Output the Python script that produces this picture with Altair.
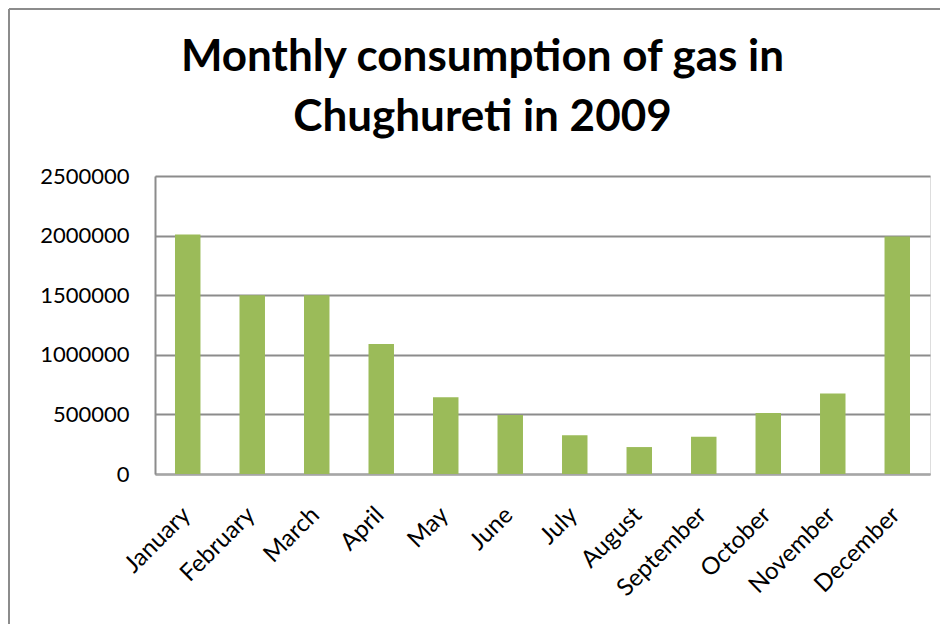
import altair as alt
import pandas as pd

months = ["January", "February", "March", "April", "May", "June", "July",
          "August", "September", "October", "November", "December"]
consumption = [2010000, 1500000, 1500000, 1090000, 644000, 496000, 326000,
               226000, 312000, 512000, 675000, 1992000]
y_ticks = [0, 500000, 1000000, 1500000, 2000000, 2500000]
title_lines = ["Monthly consumption of gas in", "Chughureti in 2009"]

df = pd.DataFrame({"month": months, "value": consumption})

FONT = "Lato"

bars = alt.Chart(df).mark_bar(color="#9BBB59").encode(
    x=alt.X("month:N", sort=months,
            scale=alt.Scale(paddingInner=0.605, paddingOuter=0.31),
            axis=alt.Axis(title=None, labelAngle=-45, labelAlign="right",
                          labelBaseline="middle", labelPadding=37, labelOffset=-1,
                          labelFont=FONT, labelFontSize=24, labelColor="#000000",
                          ticks=False, domainColor="#a6a6a6", domainWidth=2,
                          grid=False)),
    y=alt.Y("value:Q",
            scale=alt.Scale(domain=[0, 2500000], nice=False),
            axis=alt.Axis(title=None, values=y_ticks, format="d",
                          labelFont=FONT, labelFontSize=22, labelColor="#000000",
                          labelPadding=26, ticks=False,
                          domainColor="#8c8c8c", domainWidth=2,
                          grid=True, gridColor="#8c8c8c", gridWidth=1.8)),
)

frame = alt.Chart(df).mark_rule(color="#8c8c8c", strokeWidth=2).encode(
    x=alt.value(-146), x2=alt.value(-146), y=alt.value(-167), y2=alt.value(460)
)
frame_top = alt.Chart(df).mark_rule(color="#8c8c8c", strokeWidth=2).encode(
    x=alt.value(-146), x2=alt.value(800), y=alt.value(-167), y2=alt.value(-167)
)

chart = alt.layer(frame, frame_top, bars).properties(
    width=775,
    height=298,
    title=alt.Title(title_lines, font=FONT, fontSize=44, fontWeight="bold",
                    color="#000000", anchor="middle", frame="group", dx=-60,
                    baseline="alphabetic", offset=0, dy=167, lineHeight=60),
    padding={"left": 147, "top": 168, "right": 10, "bottom": 150},
    autosize=alt.AutoSizeParams(type="none"),
).configure_view(strokeWidth=0, strokeOpacity=0, stroke="#ffffff").configure(background="white")

chart.save("out.html", embed_options={"renderer": "svg", "actions": False})
